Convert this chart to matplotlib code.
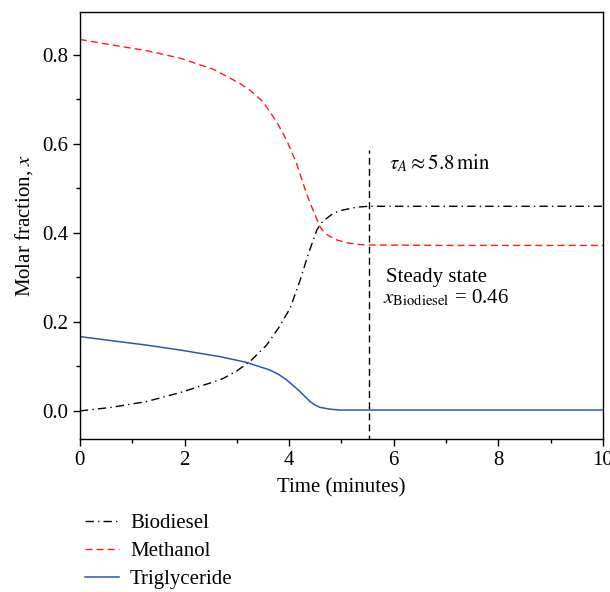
import numpy as np
import matplotlib
matplotlib.use("Agg")
import matplotlib.pyplot as plt

# values (time in minutes, molar fraction)
t_bio = [0.0, 0.6, 1.27, 1.91, 2.55, 2.74, 3.0, 3.25, 3.57, 3.80, 4.02, 4.21, 4.37, 4.53,
         4.62, 4.72, 4.84, 4.97, 5.29, 5.53, 7.0, 10.0]
x_bio = [0.0, 0.008, 0.021, 0.041, 0.065, 0.073, 0.090, 0.111, 0.148, 0.187, 0.231, 0.294, 0.354, 0.407,
         0.423, 0.433, 0.444, 0.450, 0.458, 0.460, 0.460, 0.460]

t_meoh = [0.0, 0.64, 1.27, 1.91, 2.55, 3.06, 3.25, 3.50, 3.76, 3.95, 4.14, 4.33, 4.43,
          4.59, 4.68, 4.78, 4.92, 5.10, 5.35, 5.53, 7.0, 10.0]
x_meoh = [0.835, 0.822, 0.810, 0.793, 0.768, 0.736, 0.721, 0.695, 0.650, 0.609, 0.557, 0.489, 0.459,
          0.414, 0.400, 0.392, 0.384, 0.378, 0.374, 0.373, 0.372, 0.372]

t_tg = [0.0, 1.27, 1.91, 2.68, 3.19, 3.63, 3.80, 3.95, 4.08, 4.21, 4.40, 4.50, 4.59, 4.78,
        4.97, 6.0, 10.0]
x_tg = [0.167, 0.148, 0.137, 0.122, 0.109, 0.092, 0.082, 0.070, 0.057, 0.043, 0.021, 0.013, 0.008, 0.004,
        0.002, 0.002, 0.002]

t_steady = 5.53

plt.rcParams['font.family'] = ['Liberation Serif', 'DejaVu Serif']
plt.rcParams['mathtext.fontset'] = 'stix'
fs = 15

fig = plt.figure(figsize=(6.1, 5.92), dpi=100)
ax = fig.add_axes([0.131, 0.2585, 0.8575, 0.7215])

ax.plot(t_bio, x_bio, color='black', ls=(0, (6, 3, 1, 3)), lw=1.0, label='Biodiesel')
ax.plot(t_meoh, x_meoh, color='#ff1a1a', ls=(0, (5, 3)), lw=1.0, label='Methanol')
ax.plot(t_tg, x_tg, color='#2e55b5', ls='-', lw=1.1, label='Triglyceride')

ax.plot([t_steady, t_steady], [-0.07, 0.587], color='black', ls=(0, (5, 3)), lw=1.0)

ax.text(5.91, 0.557, r'$\tau_A \approx 5.8\,\mathrm{min}$', fontsize=fs, va='center')
ax.text(5.85, 0.299, 'Steady state', fontsize=fs, va='center')
ax.text(5.79, 0.254, r'$x_{\mathrm{Biodiesel}}$ = 0.46', fontsize=fs, va='center')

ax.set_xlim(0, 10)
ax.set_ylim(-0.063, 0.897)
ax.set_xticks([0, 2, 4, 6, 8, 10])
ax.set_xticks(np.arange(1, 10, 2), minor=True)
ax.set_yticks([0.0, 0.2, 0.4, 0.6, 0.8])
ax.set_yticklabels(['0.0', '0.2', '0.4', '0.6', '0.8'])
ax.set_yticks([0.1, 0.3, 0.5, 0.7], minor=True)
ax.tick_params(which='both', direction='out', labelsize=fs, top=False, right=False)
ax.tick_params(which='major', length=5, width=1)
ax.tick_params(which='minor', length=3, width=1)
for s in ax.spines.values():
    s.set_linewidth(1.0)

ax.set_xlabel('Time (minutes)', fontsize=fs, labelpad=6)
ax.set_ylabel(r'Molar fraction, $x$', fontsize=fs, labelpad=5)

fig.legend(loc='upper left', bbox_to_anchor=(0.126, 0.146), frameon=False, fontsize=fs,
           handlelength=1.6, handletextpad=0.55, labelspacing=0.4, borderaxespad=0)

fig.savefig('out.png', dpi=100)
